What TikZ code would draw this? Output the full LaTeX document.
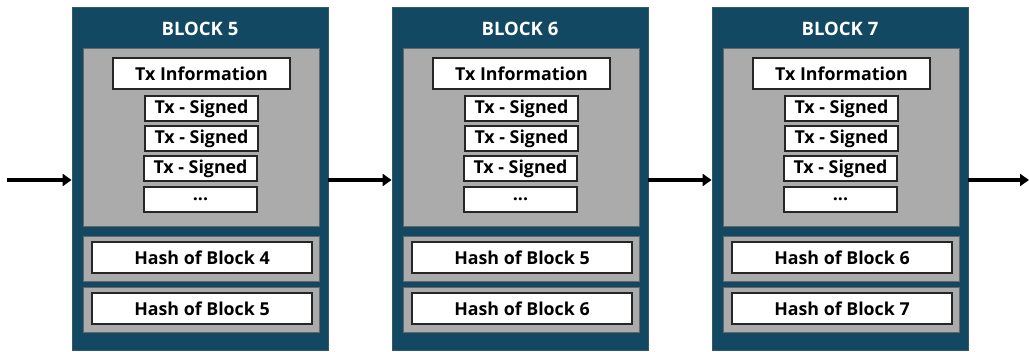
\documentclass[tikz,border=0pt]{standalone}
\usepackage{fontspec}
\setmainfont{Open Sans}
\usetikzlibrary{arrows.meta}
\definecolor{blockblue}{HTML}{134862}
\definecolor{blockgrey}{HTML}{ABABAB}
\tikzset{
  blockbox/.style={draw=blockblue!70!gray, line width=0.8pt, fill=blockblue, minimum width=256pt, minimum height=343pt, inner sep=0pt},
  greybox/.style={draw=black!60, line width=0.8pt, fill=blockgrey, minimum width=236pt, inner sep=0pt},
  txbox/.style={draw=black!85, line width=1.2pt, fill=white, minimum height=25pt, inner sep=0pt, font=\bfseries\fontsize{17.8}{20}\selectfont},
  link/.style={line width=3.5pt, -{Triangle[length=9pt,width=12pt]}}
}
\begin{document}
\begin{tikzpicture}[x=1pt,y=-1pt]
\useasboundingbox (0,0) rectangle (1029,352);
\foreach \b [count=\i from 0] in {5,6,7} {
  \pgfmathtruncatemacro{\prev}{\b-1}
  \begin{scope}[xshift=\i*320pt]
  \node[blockbox] (block\b) at (200,178.5) {};
  \node[text=white, font=\bfseries\fontsize{18.5}{20}\selectfont] (title\b) at (200,29) {BLOCK \b};
  % transactions
  \node[greybox, minimum height=178pt] (txarea\b) at (201,137) {};
  \node[txbox, minimum width=177pt, minimum height=31pt] (info\b) at (201.5,73.5) {Tx Information};
  \node[txbox, minimum width=113pt] (sa\b) at (201.5,108.5) {Tx - Signed};
  \node[txbox, minimum width=113pt] (sb\b) at (201.5,138.5) {Tx - Signed};
  \node[txbox, minimum width=113pt] (sc\b) at (200.5,168.5) {Tx - Signed};
  \node[txbox, minimum width=113pt] (dots\b) at (200.5,199.5) {...};
  % hashes
  \node[greybox, minimum height=45pt] (hpa\b) at (201,258.5) {};
  \node[txbox, minimum width=220pt, minimum height=31pt] (hprev\b) at (202,257.5) {Hash of Block \prev};
  \node[greybox, minimum height=45pt] (hca\b) at (201,309.5) {};
  \node[txbox, minimum width=220pt, minimum height=31pt] (hcur\b) at (202,308.5) {Hash of Block \b};
  \end{scope}
}
\coordinate (in) at (7,180);
\coordinate (out) at (1029,180);
\draw[link] (in) -- (in -| block5.west);
\draw[link] (block5.east |- in) -- (block6.west |- in);
\draw[link] (block6.east |- in) -- (block7.west |- in);
\draw[link] (block7.east |- in) -- (out);
\end{tikzpicture}
\end{document}
